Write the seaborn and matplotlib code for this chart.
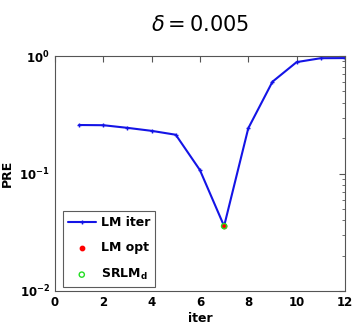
import numpy as np
import pandas as pd
import matplotlib
matplotlib.use("Agg")
import matplotlib.pyplot as plt
import seaborn as sns

# values
iters = [1, 2, 3, 4, 5, 6, 7, 8, 9, 10, 11, 12]
pre = [0.259, 0.258, 0.245, 0.231, 0.214, 0.107, 0.0357, 0.243, 0.605, 0.889, 0.96, 0.962]
opt_iter = [7]
opt_pre = [0.0357]

sns.set_style("white")
plt.rcParams['font.family'] = ['DejaVu Sans']

df = pd.DataFrame({'iter': iters, 'PRE': pre})

fig = plt.figure(figsize=(3.52, 3.32), dpi=100)
ax = fig.add_axes([0.156, 0.1235, 0.824, 0.7075])

blue = '#1414e6'
sns.lineplot(ax=ax, data=df, x='iter', y='PRE', color=blue, linewidth=1.5,
             marker='+', markersize=3, markeredgewidth=1, markeredgecolor=blue,
             label='LM iter')
ax.scatter(opt_iter, opt_pre, s=10, color='red', zorder=4, label='LM opt')
ax.scatter(opt_iter, opt_pre, s=14, facecolors='none', edgecolors='#22dd22',
           linewidths=1, zorder=5, label='SRLM$_\\mathregular{d}$')

ax.set_yscale('log')
ax.set_xlim(0, 12)
ax.set_ylim(1e-2, 1e0)
ax.set_xticks([0, 2, 4, 6, 8, 10, 12])
ax.tick_params(which='both', direction='in', top=True, right=True, labelsize=8.5,
               colors='#555555', labelcolor='black')
ax.tick_params(which='major', length=4)
ax.tick_params(which='minor', length=2)
for lbl in ax.get_xticklabels() + ax.get_yticklabels():
    lbl.set_fontweight('bold')
for s in ax.spines.values():
    s.set_color('#555555')
    s.set_linewidth(0.8)

ax.set_xlabel('iter', fontsize=9, fontweight='bold', labelpad=2, color='black')
ax.set_ylabel('PRE', fontsize=9, fontweight='bold', labelpad=4, color='black')
ax.set_title('$\\delta = 0.005$', fontsize=15, pad=18, color='black')

leg = ax.legend(loc='lower left', bbox_to_anchor=(0.028, 0.017), borderaxespad=0,
                frameon=True, fancybox=False, handlelength=2.2, handletextpad=0.4,
                labelspacing=1.0, prop={'weight': 'bold', 'size': 9})
leg.get_frame().set_edgecolor('#333333')
leg.get_frame().set_linewidth(0.8)
for t in leg.get_texts():
    t.set_color('black')

fig.savefig('out.png', dpi=100)
